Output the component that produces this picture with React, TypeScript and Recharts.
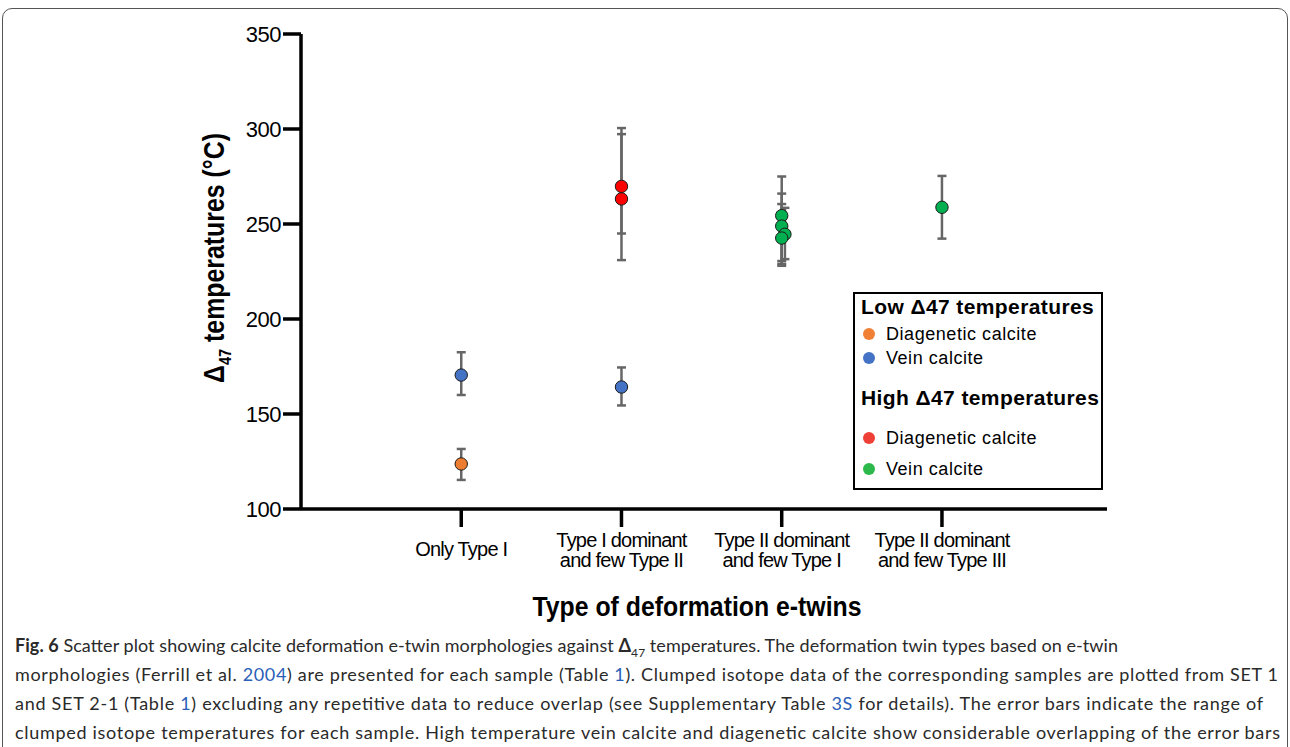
import React from 'react';
import { ScatterChart, Scatter, XAxis, YAxis, ErrorBar } from 'recharts';

const categories = [
  'Only Type I',
  'Type I dominant\nand few Type II',
  'Type II dominant\nand few Type I',
  'Type II dominant\nand few Type III',
];
const categoryTicks = [1, 2, 3, 4];
const yTicks = [100, 150, 200, 250, 300, 350];

// low Δ47 temperatures
const lowDiageneticX = [1];
const lowDiageneticT = [123.7];
const lowDiageneticMin = [115.3];
const lowDiageneticMax = [131.6];

const lowVeinX = [1, 2];
const lowVeinT = [170.5, 164.2];
const lowVeinMin = [160, 154.5];
const lowVeinMax = [182.5, 174.5];

// high Δ47 temperatures
const highDiageneticX = [2, 2];
const highDiageneticT = [269.8, 263.2];
const highDiageneticMin = [245, 231];
const highDiageneticMax = [300.5, 297.3];

const highVeinX = [3, 3, 3.02, 3, 4];
const highVeinT = [254.4, 248.9, 244.6, 242.6, 258.8];
const highVeinMin = [229, 230.5, 231.5, 228, 242.3];
const highVeinMax = [275, 266, 258.5, 260.5, 275.3];

const build = (xs: number[], ts: number[], mins: number[], maxs: number[]) =>
  xs.map((x, i) => ({ x, t: ts[i], err: [ts[i] - mins[i], maxs[i] - ts[i]] }));

const series = [
  { name: 'lowDiag', color: '#ED7D31', data: build(lowDiageneticX, lowDiageneticT, lowDiageneticMin, lowDiageneticMax) },
  { name: 'lowVein', color: '#4472C4', data: build(lowVeinX, lowVeinT, lowVeinMin, lowVeinMax) },
  { name: 'highDiag', color: '#FF0000', data: build(highDiageneticX, highDiageneticT, highDiageneticMin, highDiageneticMax) },
  { name: 'highVein', color: '#00B050', data: build(highVeinX, highVeinT, highVeinMin, highVeinMax) },
];

const SANS = "'Liberation Sans', Arial, sans-serif";

const CategoryTick = (props: any) => {
  const { x, y, payload } = props;
  const label = categories[Math.round(payload.value) - 1] || '';
  const lines = label.split('\n');
  return (
    <text x={x} y={y} textAnchor="middle" fontFamily={SANS} fontSize={20} letterSpacing={-0.8} fill="#000">
      {lines.map((l, i) => (
        <tspan key={i} x={x} dy={i === 0 ? (lines.length === 1 ? 27 : 18) : 20}>
          {l}
        </tspan>
      ))}
    </text>
  );
};

const XTitle = () => (
  <text x={697} y={616} textAnchor="middle" fontFamily={SANS} fontWeight="bold" fontSize={28}
    textLength={329} lengthAdjust="spacingAndGlyphs" fill="#000">
    Type of deformation e-twins
  </text>
);

const YTitle = () => (
  <text x={0} y={0} transform="translate(224,258) rotate(-90)" textAnchor="middle" fontFamily={SANS}
    fontWeight="bold" fontSize={29} textLength={250} lengthAdjust="spacingAndGlyphs" fill="#000">
    Δ<tspan fontSize={17} dy={7}>47</tspan>
    <tspan dy={-7}> temperatures (°C)</tspan>
  </text>
);

const legendRows = [
  { kind: 'title', text: 'Low Δ47 temperatures', top: 1 },
  { kind: 'item', text: 'Diagenetic calcite', color: '#F08033', top: 28 },
  { kind: 'item', text: 'Vein calcite', color: '#4472C4', top: 52 },
  { kind: 'title', text: 'High Δ47 temperatures', top: 92 },
  { kind: 'item', text: 'Diagenetic calcite', color: '#EE4036', top: 132 },
  { kind: 'item', text: 'Vein calcite', color: '#2DB84B', top: 163 },
];

const LegendBox = () => (
  <div style={{
    position: 'absolute', left: 853, top: 292, width: 250, height: 198, boxSizing: 'border-box',
    border: '2px solid #000', background: '#fff', fontFamily: SANS, color: '#000',
  }}>
    {legendRows.map((r, i) =>
      r.kind === 'title' ? (
        <div key={i} style={{ position: 'absolute', left: 6, top: r.top, fontSize: 21, fontWeight: 'bold',
          letterSpacing: 0.4, lineHeight: '24px', whiteSpace: 'nowrap' }}>{r.text}</div>
      ) : (
        <div key={i} style={{ position: 'absolute', left: 8, top: r.top, height: 24, whiteSpace: 'nowrap' }}>
          <span style={{ position: 'absolute', left: 0, top: 6, width: 12, height: 12, borderRadius: 6, background: r.color }} />
          <span style={{ position: 'absolute', left: 23, top: 0, fontSize: 18, letterSpacing: 0.55, lineHeight: '24px' }}>{r.text}</span>
        </div>
      )
    )}
  </div>
);

const LINK = '#2a5fb8';
const CAP_FONT = "Lato, 'Open Sans', sans-serif";

const Caption = () => (
  <svg width={1290} height={747} style={{ position: 'absolute', left: 0, top: 0, pointerEvents: 'none' }}>
    <g fontFamily={CAP_FONT} fontSize={18} fill="#2a2a2a">
      <text x={15} y={652} textLength={1103} lengthAdjust="spacing">
        <tspan fontWeight="bold">Fig. 6</tspan> Scatter plot showing calcite deformation e-twin morphologies against <tspan fontWeight="bold">Δ</tspan><tspan fontSize={12} dy={5}>47</tspan><tspan dy={-5}> temperatures. The deformation twin types based on e-twin</tspan>
      </text>
      <text x={15} y={681} textLength={1263} lengthAdjust="spacing">
        morphologies (Ferrill et al. <tspan fill={LINK}>2004</tspan>) are presented for each sample (Table <tspan fill={LINK}>1</tspan>). Clumped isotope data of the corresponding samples are plotted from SET 1
      </text>
      <text x={15} y={710} textLength={1248} lengthAdjust="spacing">
        and SET 2-1 (Table <tspan fill={LINK}>1</tspan>) excluding any repetitive data to reduce overlap (see Supplementary Table <tspan fill={LINK}>3S</tspan> for details). The error bars indicate the range of
      </text>
      <text x={15} y={739} textLength={1265} lengthAdjust="spacing">
        clumped isotope temperatures for each sample. High temperature vein calcite and diagenetic calcite show considerable overlapping of the error bars
      </text>
    </g>
  </svg>
);

const App: React.FC = () => {
  return (
    <div style={{ position: 'absolute', left: 0, top: 0, width: 1290, height: 747, background: '#fff', overflow: 'hidden' }}>
      <div style={{ position: 'absolute', left: 2, top: 8, width: 1284, height: 780, border: '1px solid #555', borderRadius: 10 }} />
      <div style={{ position: 'absolute', left: 0, top: 0 }}>
        <ScatterChart width={1290} height={747} margin={{ top: 34, right: 183, bottom: 158, left: 0 }}>
          <XAxis
            type="number"
            dataKey="x"
            domain={[0, 5.03]}
            ticks={categoryTicks}
            interval={0}
            tick={<CategoryTick />}
            tickSize={18}
            stroke="#000"
            strokeWidth={3.5}
            height={80}
            label={{ content: XTitle }}
          />
          <YAxis
            type="number"
            dataKey="t"
            domain={[100, 350]}
            ticks={yTicks}
            interval={0}
            width={301}
            tickSize={18}
            stroke="#000"
            strokeWidth={3.5}
            tick={{ fill: '#000', fontSize: 22, fontFamily: SANS, letterSpacing: -0.5 }}
            label={{ content: YTitle }}
          />
          {series.map((s) => (
            <Scatter
              key={s.name}
              data={s.data}
              isAnimationActive={false}
              fill={s.color}
              shape={(p: any) => (
                <circle cx={p.cx} cy={p.cy} r={6.2} fill={s.color} stroke="#1a1a1a" strokeWidth={1} />
              )}
            >
              <ErrorBar dataKey="err" direction="y" width={4.5} stroke="#666" strokeWidth={2.5} />
            </Scatter>
          ))}
        </ScatterChart>
      </div>
      <LegendBox />
      <Caption />
    </div>
  );
};

export default App;
